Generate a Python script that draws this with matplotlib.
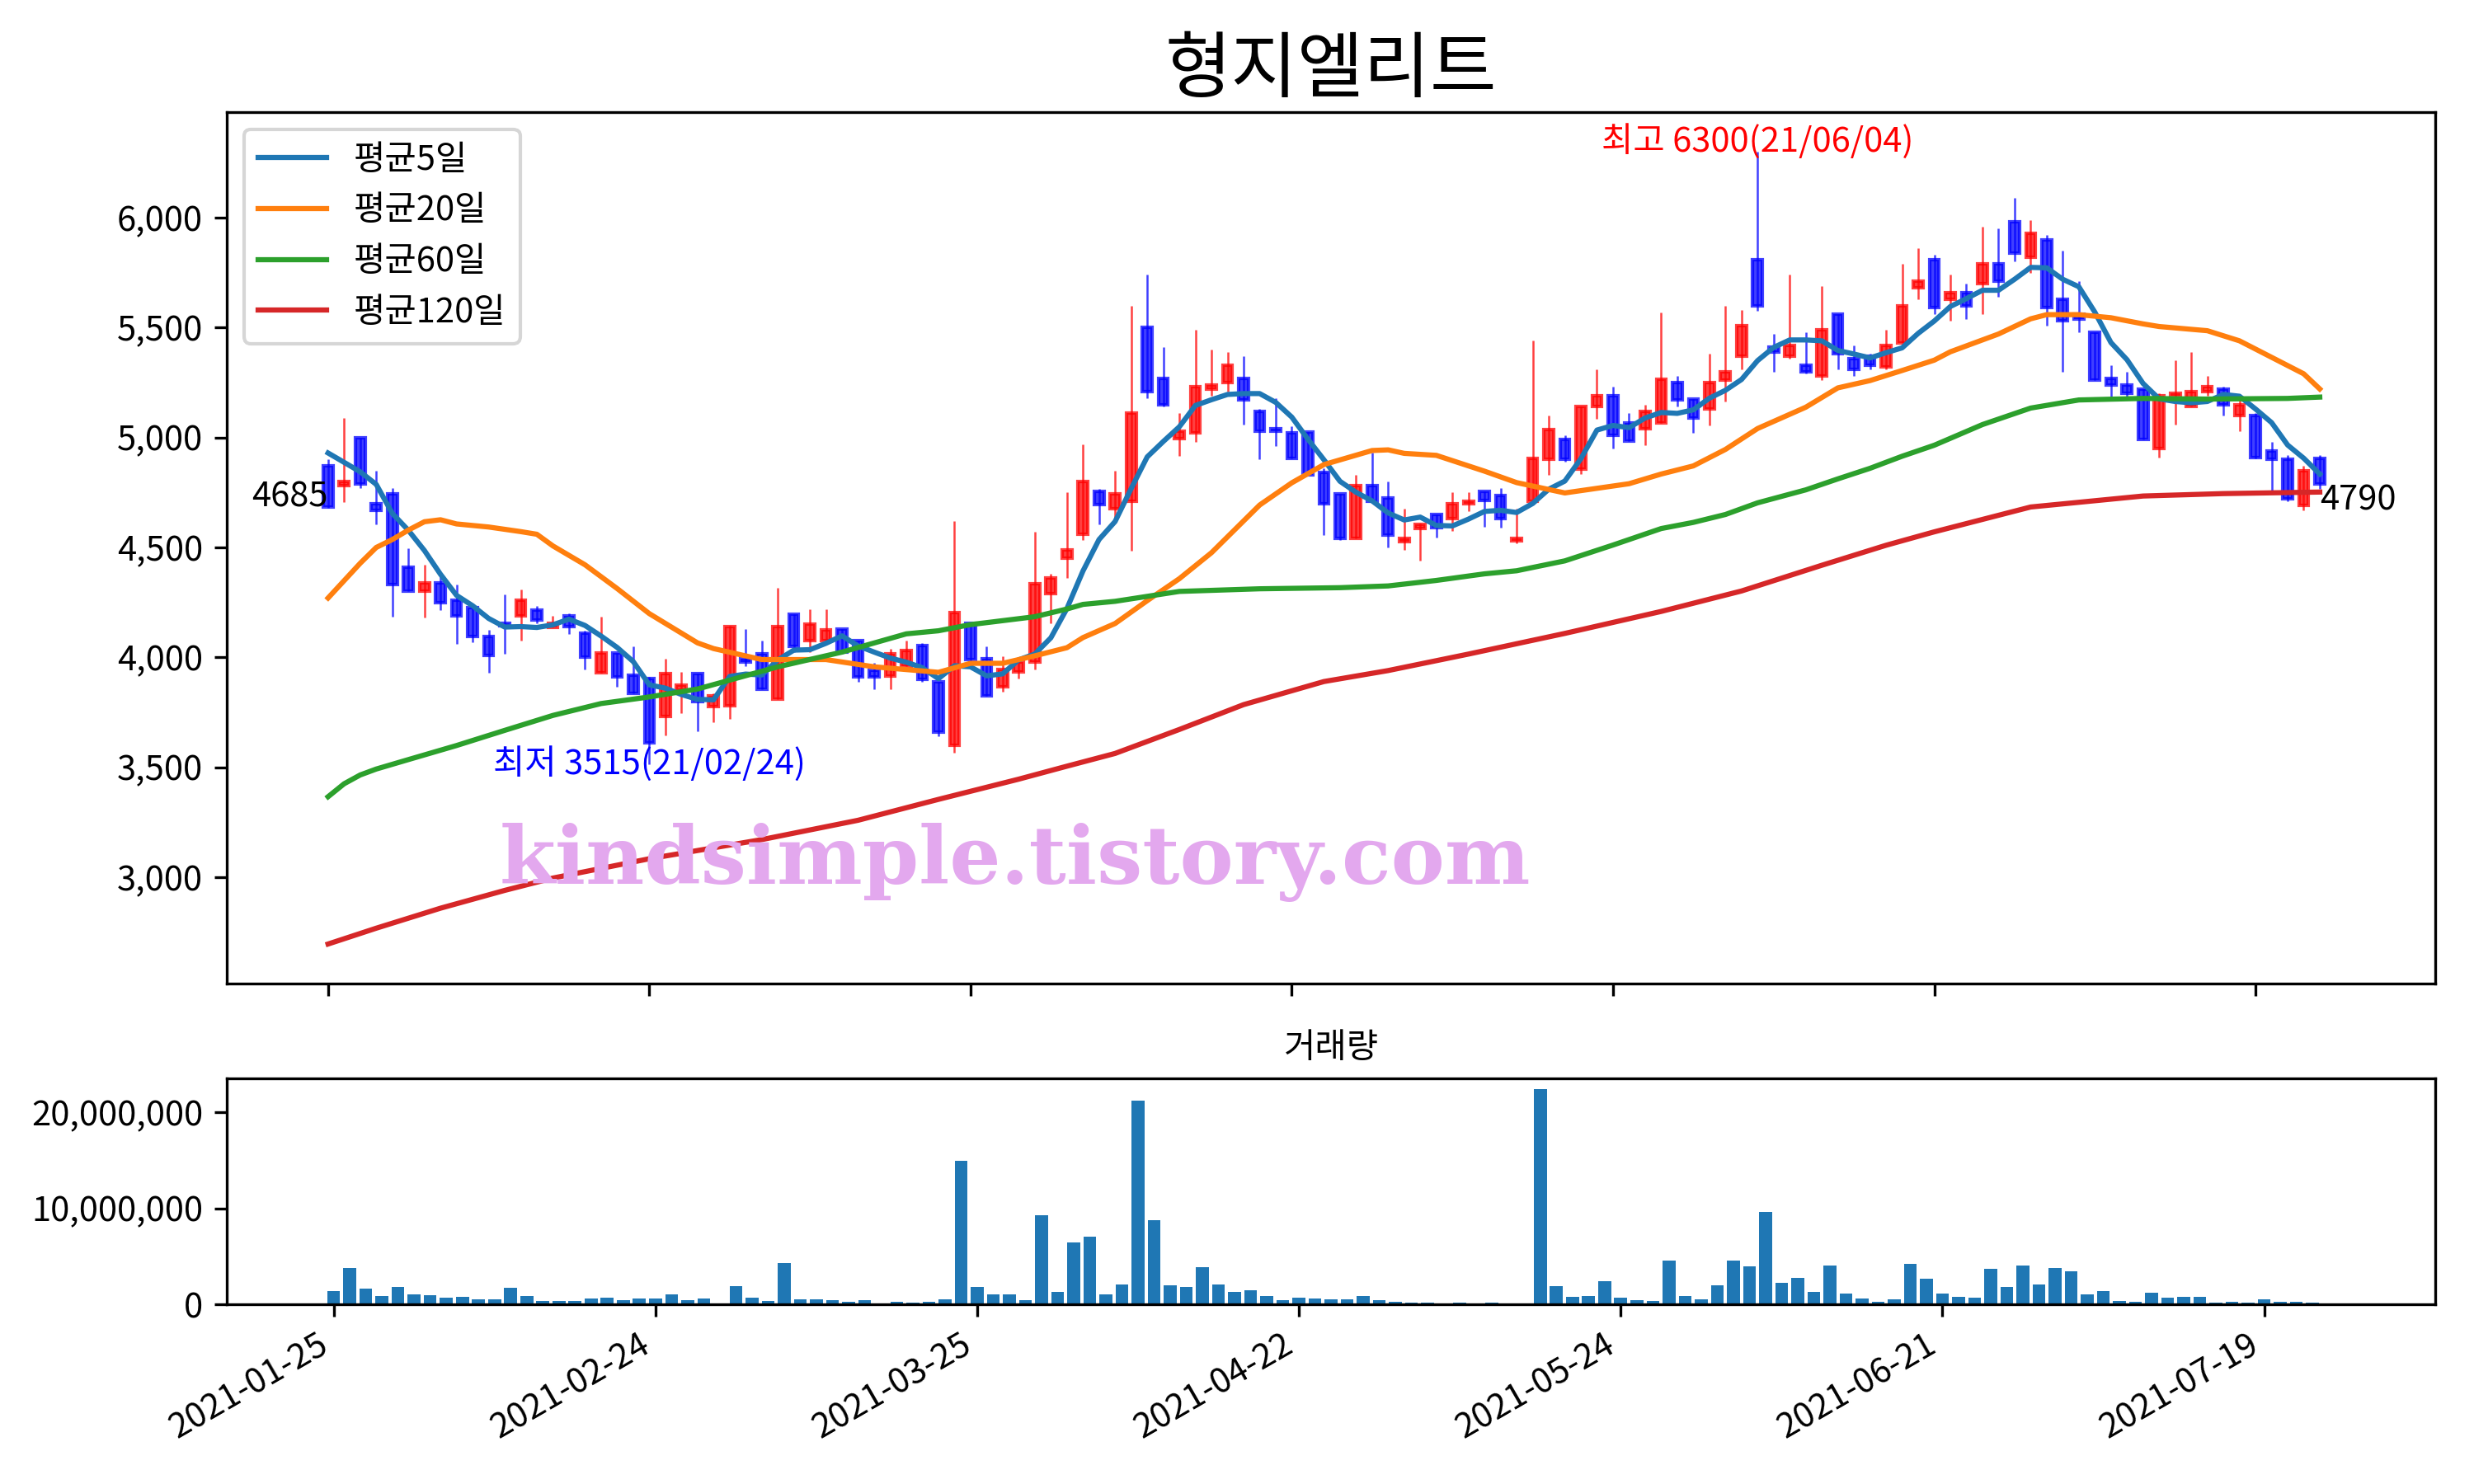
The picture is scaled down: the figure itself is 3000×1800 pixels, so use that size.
import numpy as np
import matplotlib
matplotlib.use('Agg')
import matplotlib.pyplot as plt
from matplotlib.ticker import FuncFormatter

plt.rcParams['font.family'] = ['Noto Sans CJK KR', 'DejaVu Sans']
plt.rcParams['axes.unicode_minus'] = False

title = '형지엘리트'

# daily prices, 2021-01-25 .. 2021-07-26 (125 trading days)
opens = [4870, 4780, 5000, 4700, 4745, 4410, 4300, 4340, 4260, 4225,
         4095, 4155, 4190, 4215, 4135, 4190, 4110, 3930, 4020, 3920,
         3905, 3730, 3850, 3925, 3775, 3780, 3995, 4015, 3810, 4195,
         4075, 4075, 4130, 4075, 3940, 3915, 3960, 4055, 3890, 3600,
         4155, 3995, 3865, 3935, 3980, 4290, 4450, 4560, 4755, 4675,
         4710, 5500, 5270, 4995, 5020, 5220, 5250, 5270, 5120, 5040,
         5020, 5025, 4840, 4745, 4540, 4780, 4725, 4525, 4585, 4650,
         4630, 4700, 4755, 4735, 4530, 4710, 4900, 4990, 4855, 5140,
         5190, 5065, 5040, 5065, 5250, 5175, 5130, 5260, 5370, 5810,
         5410, 5370, 5330, 5280, 5560, 5360, 5370, 5320, 5430, 5680,
         5810, 5630, 5660, 5700, 5790, 5980, 5820, 5900, 5630, 5560,
         5480, 5270, 5240, 5220, 4950, 5190, 5140, 5210, 5220, 5100,
         5100, 4940, 4900, 4690, 4905]
highs = [4900, 5090, 5000, 4850, 4770, 4495, 4420, 4370, 4330, 4240,
         4125, 4285, 4310, 4235, 4190, 4200, 4120, 4185, 4020, 4050,
         3910, 3995, 3935, 3925, 3835, 4145, 4130, 4075, 4315, 4195,
         4220, 4220, 4130, 4075, 3975, 4040, 4075, 4065, 3890, 4620,
         4155, 4050, 4005, 3990, 4570, 4380, 4750, 4970, 4765, 4850,
         5600, 5740, 5410, 5110, 5490, 5400, 5390, 5370, 5130, 5180,
         5050, 5025, 4860, 4745, 4830, 4930, 4800, 4675, 4610, 4650,
         4750, 4750, 4755, 4770, 4675, 5440, 5100, 5010, 5140, 5310,
         5230, 5110, 5150, 5570, 5280, 5175, 5380, 5600, 5580, 6300,
         5470, 5740, 5480, 5690, 5560, 5420, 5380, 5490, 5790, 5860,
         5830, 5740, 5700, 5960, 5950, 6090, 5990, 5920, 5850, 5710,
         5480, 5330, 5300, 5220, 5200, 5350, 5390, 5280, 5230, 5170,
         5110, 4980, 4920, 4870, 4920]
lows = [4680, 4705, 4770, 4605, 4185, 4300, 4180, 4215, 4060, 4070,
        3930, 4015, 4075, 4155, 4135, 4105, 3945, 3930, 3865, 3835,
        3515, 3645, 3745, 3665, 3705, 3720, 3960, 3855, 3810, 4025,
        4025, 4075, 4015, 3890, 3855, 3855, 3960, 3890, 3640, 3565,
        3975, 3825, 3845, 3905, 3945, 4155, 4360, 4535, 4605, 4625,
        4485, 5180, 5140, 4915, 4980, 5190, 5210, 5060, 4900, 4960,
        4905, 4830, 4555, 4535, 4540, 4710, 4500, 4490, 4440, 4545,
        4575, 4665, 4595, 4590, 4520, 4710, 4830, 4890, 4835, 5085,
        4950, 4985, 4965, 5065, 5140, 5020, 5055, 5165, 5310, 5575,
        5300, 5360, 5290, 5260, 5310, 5280, 5310, 5310, 5430, 5630,
        5560, 5530, 5540, 5560, 5640, 5800, 5750, 5510, 5300, 5480,
        5260, 5180, 5180, 4990, 4910, 5060, 5140, 5190, 5100, 5030,
        4905, 4750, 4710, 4670, 4765]
closes = [4685, 4800, 4790, 4670, 4330, 4300, 4340, 4250, 4190, 4095,
          4010, 4145, 4260, 4170, 4155, 4140, 4000, 4020, 3910, 3835,
          3610, 3925, 3875, 3800, 3825, 4140, 3980, 3855, 4140, 4050,
          4150, 4125, 4025, 3910, 3910, 4015, 4030, 3900, 3660, 4205,
          3990, 3825, 3945, 3980, 4335, 4360, 4490, 4800, 4695, 4745,
          5110, 5210, 5150, 5030, 5230, 5240, 5330, 5170, 5030, 5030,
          4905, 4830, 4700, 4540, 4780, 4710, 4555, 4540, 4605, 4590,
          4700, 4710, 4715, 4630, 4540, 4905, 5035, 4900, 5140, 5190,
          5010, 4985, 5120, 5265, 5170, 5090, 5250, 5300, 5510, 5600,
          5390, 5420, 5300, 5490, 5380, 5310, 5330, 5420, 5600, 5710,
          5590, 5660, 5600, 5790, 5710, 5840, 5930, 5590, 5530, 5540,
          5260, 5240, 5200, 4990, 5190, 5200, 5210, 5230, 5150, 5150,
          4910, 4900, 4720, 4850, 4790]
# the four closes before 2021-01-25, needed for the first 5-day averages
prev_closes = [5013, 5005, 4957, 4989]

# volume in millions of shares
volume_m = [1.40, 3.80, 1.66, 0.89, 1.83, 1.06, 0.97, 0.72, 0.80, 0.54,
            0.54, 1.75, 0.89, 0.37, 0.37, 0.37, 0.63, 0.72, 0.46, 0.63,
            0.63, 1.06, 0.46, 0.63, 0.11, 1.92, 0.72, 0.37, 4.32, 0.54,
            0.54, 0.46, 0.29, 0.46, 0.11, 0.29, 0.20, 0.29, 0.54, 14.9,
            1.83, 1.06, 1.06, 0.46, 9.30, 1.32, 6.40, 7.07, 1.06, 2.09,
            21.2, 8.78, 2.00, 1.83, 3.89, 2.09, 1.32, 1.49, 0.89, 0.46,
            0.72, 0.63, 0.54, 0.54, 0.89, 0.46, 0.29, 0.20, 0.20, 0.11,
            0.20, 0.11, 0.20, 0.11, 0.11, 22.4, 1.92, 0.80, 0.89, 2.43,
            0.72, 0.46, 0.37, 4.58, 0.89, 0.54, 2.00, 4.58, 3.98, 9.64,
            2.26, 2.78, 1.32, 4.06, 1.14, 0.63, 0.29, 0.54, 4.23, 2.69,
            1.14, 0.80, 0.72, 3.72, 1.83, 4.06, 2.09, 3.80, 3.46, 1.06,
            1.40, 0.37, 0.29, 1.23, 0.72, 0.80, 0.80, 0.20, 0.29, 0.20,
            0.54, 0.29, 0.29, 0.20, 0.11]

# longer moving averages (day index, value)
ma20_idx = [0, 2, 3, 4, 5, 6, 7, 8, 10, 12, 13, 14, 16, 18, 20, 23, 24, 27,
            31, 34, 38, 40, 42, 44, 46, 47, 49, 51, 53, 55, 58, 60, 62, 65,
            66, 67, 69, 72, 74, 77, 81, 83, 85, 87, 89, 92, 94, 96, 98, 100,
            101, 104, 106, 107, 109, 111, 113, 114, 117, 119, 121, 123, 124]
ma20_val = [4270, 4428, 4500, 4536, 4579, 4617, 4626, 4607, 4593, 4572, 4560,
            4507, 4421, 4313, 4199, 4066, 4040, 3990, 3990, 3957, 3932, 3973,
            3973, 4007, 4044, 4090, 4154, 4258, 4358, 4476, 4693, 4794, 4877,
            4941, 4944, 4928, 4919, 4847, 4795, 4748, 4790, 4834, 4871, 4946,
            5041, 5138, 5226, 5259, 5305, 5352, 5390, 5471, 5540, 5559, 5559,
            5545, 5517, 5505, 5486, 5440, 5365, 5290, 5221]
ma60_idx = [0, 1, 2, 3, 5, 8, 11, 14, 17, 20, 23, 28, 32, 36, 38, 40, 44, 46,
            47, 49, 53, 58, 63, 66, 69, 72, 74, 77, 80, 83, 85, 87, 89, 92,
            94, 96, 98, 100, 103, 106, 109, 113, 117, 122, 124]
ma60_val = [3366, 3425, 3465, 3492, 3535, 3599, 3668, 3736, 3790, 3820, 3856,
            3957, 4024, 4107, 4121, 4149, 4185, 4220, 4241, 4255, 4300, 4312,
            4317, 4325, 4350, 4380, 4394, 4439, 4511, 4586, 4614, 4650, 4703,
            4762, 4812, 4860, 4915, 4965, 5059, 5134, 5171, 5178, 5175, 5178,
            5184]
ma120_idx = [0, 3, 7, 11, 14, 20, 27, 33, 38, 43, 46, 49, 53, 57, 62, 66, 69,
             71, 77, 83, 88, 93, 97, 100, 106, 113, 118, 124]
ma120_val = [2696, 2768, 2859, 2940, 2996, 3084, 3171, 3259, 3354, 3446, 3505,
             3563, 3672, 3785, 3890, 3940, 3985, 4015, 4109, 4209, 4302, 4419,
             4510, 4571, 4684, 4734, 4745, 4752]

tick_idx = [0, 20, 40, 60, 80, 100, 120]
tick_labels = ['2021-01-25', '2021-02-24', '2021-03-25', '2021-04-22',
               '2021-05-24', '2021-06-21', '2021-07-19']
high_date = '21/06/04'
low_date = '21/02/24'

o = np.array(opens)
h = np.array(highs)
l = np.array(lows)
c = np.array(closes)
x = np.arange(len(c))

allc = np.concatenate([prev_closes, c])
ma5 = np.convolve(allc, np.ones(5) / 5, mode='valid')

fig = plt.figure(figsize=(10, 6), dpi=300)
ax = fig.add_axes([0.0917, 0.3372, 0.8927, 0.5872])
ax2 = fig.add_axes([0.0917, 0.1211, 0.8927, 0.1522])

# candles
up = c >= o
col = np.where(up, 'r', 'b')
ax.vlines(x, l, h, colors=col, linewidth=0.6, alpha=0.75)
ax.bar(x, np.abs(c - o), bottom=np.minimum(o, c), width=0.6,
       color=col, edgecolor=col, linewidth=1.0, alpha=0.75)

ax.plot(x, ma5, label='평균5일')
ax.plot(ma20_idx, ma20_val, label='평균20일')
ax.plot(ma60_idx, ma60_val, label='평균60일')
ax.plot(ma120_idx, ma120_val, label='평균120일')

hi_i = int(np.argmax(h))
lo_i = int(np.argmin(l))
ax.text(hi_i, h[hi_i], f'최고 {h[hi_i]}({high_date})', color='r',
        ha='center', va='baseline', fontsize=10)
ax.text(lo_i, l[lo_i], f'최저 {l[lo_i]}({low_date})', color='b',
        ha='center', va='center', fontsize=10)
ax.text(0, c[0], f'{c[0]}', ha='right', va='baseline', fontsize=10)
ax.text(x[-1], c[-1], f'{c[-1]}', ha='left', va='top', fontsize=10)

ax.text(0.357, 0.139, 'kindsimple.tistory.com', transform=ax.transAxes,
        ha='center', va='center', fontsize=23.5, fontweight='heavy',
        family='DejaVu Serif', color='#e3a8ee', zorder=10)

ax.legend(loc='upper left')
ax.set_title(title, fontsize=21)
ax.set_xlim(-6.3, 131.2)
ax.set_ylim(2516, 6480)
ax.yaxis.set_major_formatter(FuncFormatter(lambda v, p: f'{v:,.0f}'))
ax.set_xticks(tick_idx)
ax.set_xticklabels([])

# volume
ax2.bar(x, np.array(volume_m) * 1e6)
ax2.set_title('거래량', fontsize=10)
ax2.yaxis.set_major_formatter(FuncFormatter(lambda v, p: f'{v:,.0f}'))
ax2.set_xticks(tick_idx)
ax2.set_xticklabels(tick_labels, rotation=30, ha='right')

fig.savefig('out.png', dpi=300)
